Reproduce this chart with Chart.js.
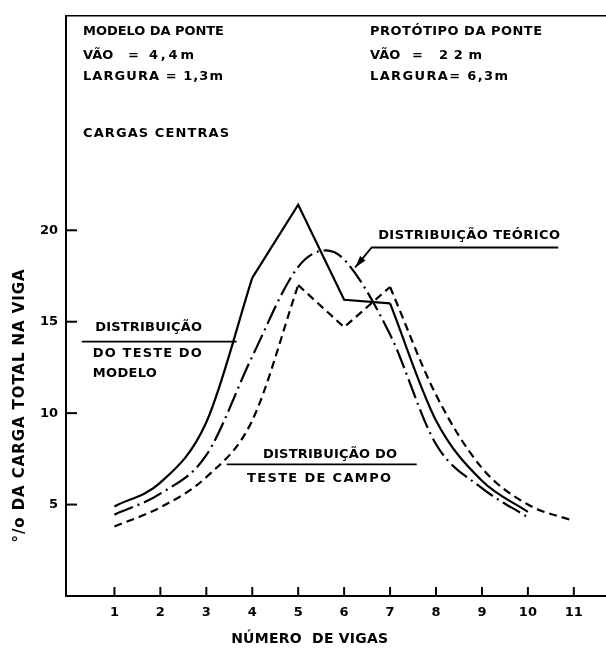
<!DOCTYPE html>
<html>
<head>
<meta charset="utf-8">
<script src="https://cdn.jsdelivr.net/npm/chart.js@4.4.1/dist/chart.umd.min.js"></script>
<style>
  html, body { margin: 0; padding: 0; background: #fff; }
  canvas { display: block; }
</style>
</head>
<body>
<canvas id="grafico" width="606" height="648"></canvas>
<script>
// Número de vigas (eixo x) e marcas do eixo y
const vigas = [1, 2, 3, 4, 5, 6, 7, 8, 9, 10, 11];
const yTicks = [5, 10, 15, 20];

// Distribuição do teste do modelo, % da carga total por viga (vigas 1-10)
const modelo = [4.9, 6.2, 9.5, 17.4, 21.4, 16.2, 16.0, 9.6, 6.3, 4.6];

// Distribuição do teste de campo (vigas 1-11)
const campo = [3.8, 4.85, 6.5, 9.6, 17.0, 14.7, 16.9, 11.0, 7.0, 5.0, 4.1];

// Distribuição teórica (curva contínua, com o máximo entre as vigas 5 e 6)
const teoricoX = [1, 2, 3, 4, 5, 5.6, 6, 7, 8, 9, 10];
const teorico = [4.45, 5.6, 7.7, 13.1, 18.0, 18.9, 18.4, 14.3, 8.3, 5.9, 4.3];

// Trechos retos (entre vigas) das curvas medidas
const modeloReto = [4, 7];
const campoReto = [5, 7];

const FONTE = '"DejaVu Sans", "Liberation Sans", sans-serif';

function pontos(xs, ys) {
  return ys.map((y, i) => ({ x: xs[i], y }));
}

// Divide uma curva medida em cauda esquerda suave, trecho reto e cauda direita suave
function trechos(xs, ys, de, ate) {
  const p = pontos(xs, ys);
  return [
    { data: p.filter(q => q.x <= de), suave: true },
    { data: p.filter(q => q.x >= de && q.x <= ate), suave: false },
    { data: p.filter(q => q.x >= ate), suave: true }
  ];
}

function serie(parte, tracejado) {
  return {
    data: parte.data,
    showLine: true,
    pointRadius: 0,
    borderColor: '#000',
    borderWidth: 2.2,
    borderDash: tracejado,
    borderCapStyle: 'butt',
    fill: false,
    tension: 0,
    cubicInterpolationMode: parte.suave ? 'monotone' : 'default'
  };
}

const datasets = [
  ...trechos(vigas, modelo, modeloReto[0], modeloReto[1]).map(p => serie(p, [])),
  ...trechos(vigas, campo, campoReto[0], campoReto[1]).map(p => serie(p, [8, 5])),
  serie({ data: pontos(teoricoX, teorico), suave: true }, [20, 5, 2, 5])
];

// Textos do cabeçalho (coordenadas de tela: esquerda, centro vertical, largura)
const cabecalho = [
  { t: 'MODELO DA PONTE', x: 83, y: 32, w: 141 },
  { t: 'VÃO', x: 83, y: 56 },
  { t: '= 4,4m', x: 128, y: 56, w: 66 },
  { t: 'LARGURA = 1,3m', x: 83, y: 77, w: 140 },
  { t: 'CARGAS CENTRAS', x: 83, y: 134, w: 146 },
  { t: 'PROTÓTIPO DA PONTE', x: 370, y: 32, w: 172 },
  { t: 'VÃO', x: 370, y: 56 },
  { t: '= 22m', x: 412, y: 56, w: 70 },
  { t: 'LARGURA= 6,3m', x: 370, y: 77, w: 138 }
];

// Rótulos das curvas (coordenadas do gráfico: viga, %)
const rotulos = [
  { t: 'DISTRIBUIÇÃO', x: 0.58, y: 14.67, w: 107 },
  { t: 'DO TESTE DO', x: 0.53, y: 13.23, w: 109 },
  { t: 'MODELO', x: 0.53, y: 12.14, w: 64 },
  { t: 'DISTRIBUIÇÃO TEÓRICO', x: 6.74, y: 19.71, w: 182 },
  { t: 'DISTRIBUIÇÃO DO', x: 4.235, y: 7.74, w: 134 },
  { t: 'TESTE DE CAMPO', x: 3.887, y: 6.44, w: 144 }
];

// Linhas de chamada (coordenadas do gráfico)
const chamadas = [
  { pts: [[0.29, 13.91], [3.66, 13.91]] },
  { pts: [[10.66, 19.06], [6.60, 19.06], [6.24, 17.97]], seta: true },
  { pts: [[3.445, 7.2], [7.58, 7.2]] }
];

function escrever(ctx, t, x, y, w, tamanho) {
  ctx.font = 'bold ' + (tamanho || 13) + 'px ' + FONTE;
  ctx.letterSpacing = '0px';
  const base = ctx.measureText(t).width;
  let ls = 0;
  if (w && t.length > 1) ls = (w - base) / (t.length - 1);
  ctx.letterSpacing = ls.toFixed(2) + 'px';
  ctx.textAlign = 'left';
  ctx.textBaseline = 'middle';
  ctx.fillText(t, x, y);
  ctx.letterSpacing = '0px';
}

const moldura = {
  id: 'moldura',
  afterDraw(chart) {
    const ctx = chart.ctx;
    const { left, right, top, bottom } = chart.chartArea;
    const sx = chart.scales.x, sy = chart.scales.y;
    ctx.save();
    ctx.strokeStyle = '#000';
    ctx.fillStyle = '#000';

    // linha superior da moldura
    ctx.lineWidth = 1.6;
    ctx.beginPath();
    ctx.moveTo(left - 1, top);
    ctx.lineTo(right, top);
    ctx.stroke();

    // marcas internas dos eixos
    ctx.lineWidth = 2;
    vigas.forEach(v => {
      const px = sx.getPixelForValue(v);
      ctx.beginPath();
      ctx.moveTo(px, bottom);
      ctx.lineTo(px, bottom - 9);
      ctx.stroke();
    });
    yTicks.forEach(v => {
      const py = sy.getPixelForValue(v);
      ctx.beginPath();
      ctx.moveTo(left, py);
      ctx.lineTo(left + 11, py);
      ctx.stroke();
    });

    // cabeçalho
    cabecalho.forEach(c => escrever(ctx, c.t, c.x, c.y, c.w, 13));

    // rótulos das curvas
    rotulos.forEach(r => escrever(ctx, r.t, sx.getPixelForValue(r.x), sy.getPixelForValue(r.y), r.w));

    // linhas de chamada
    ctx.lineWidth = 1.8;
    chamadas.forEach(c => {
      const p = c.pts.map(q => [sx.getPixelForValue(q[0]), sy.getPixelForValue(q[1])]);
      ctx.beginPath();
      ctx.moveTo(p[0][0], p[0][1]);
      for (let i = 1; i < p.length; i++) ctx.lineTo(p[i][0], p[i][1]);
      ctx.stroke();
      if (c.seta) {
        const a = p[p.length - 2], b = p[p.length - 1];
        const ang = Math.atan2(b[1] - a[1], b[0] - a[0]);
        const L = 12, H = 3.5;
        ctx.beginPath();
        ctx.moveTo(b[0], b[1]);
        ctx.lineTo(b[0] - L * Math.cos(ang) + H * Math.sin(ang), b[1] - L * Math.sin(ang) - H * Math.cos(ang));
        ctx.lineTo(b[0] - L * Math.cos(ang) - H * Math.sin(ang), b[1] - L * Math.sin(ang) + H * Math.cos(ang));
        ctx.closePath();
        ctx.fill();
      }
    });

    // títulos dos eixos
    const tx = 'NÚMERO  DE VIGAS';
    const wx = 157;
    escrever(ctx, tx, sx.getPixelForValue(5.25) - wx / 2, 639, wx, 14);

    const ty = '°/o DA CARGA TOTAL NA VIGA';
    const wy = 273;
    ctx.save();
    ctx.translate(20, 406);
    ctx.rotate(-Math.PI / 2);
    escrever(ctx, ty, -wy / 2, 0, wy, 15);
    ctx.restore();

    ctx.restore();
  }
};

const fonteTicks = { family: FONTE, weight: 'bold', size: 13 };

new Chart(document.getElementById('grafico'), {
  type: 'scatter',
  data: { datasets },
  options: {
    responsive: false,
    animation: false,
    devicePixelRatio: 1,
    layout: { padding: { top: 10, right: 0, left: 0, bottom: 0 } },
    plugins: { legend: { display: false }, tooltip: { enabled: false } },
    scales: {
      x: {
        type: 'linear',
        min: -0.054,
        max: 11.7,
        afterFit: s => { s.height = 52; },
        afterBuildTicks: s => { s.ticks = vigas.map(v => ({ value: v })); },
        grid: { display: false, drawTicks: false },
        border: { display: true, color: '#000', width: 2 },
        ticks: { color: '#000', font: fonteTicks, padding: 9, maxRotation: 0, autoSkip: false }
      },
      y: {
        type: 'linear',
        min: 0,
        max: 31.73,
        afterFit: s => { s.width = 66; },
        afterBuildTicks: s => { s.ticks = yTicks.map(v => ({ value: v })); },
        grid: { display: false, drawTicks: false },
        border: { display: true, color: '#000', width: 2 },
        ticks: { color: '#000', font: fonteTicks, padding: 8 }
      }
    }
  },
  plugins: [moldura]
});
</script>
</body>
</html>
